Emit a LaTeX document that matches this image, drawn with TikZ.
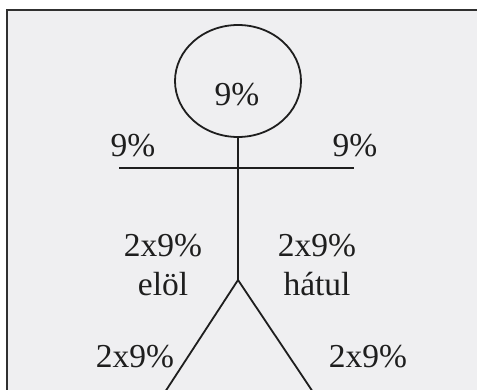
\documentclass[tikz,border=0pt]{standalone}
\usepackage{fontspec}
\setmainfont{Liberation Serif}
\definecolor{paper}{HTML}{EFEFF1}
\definecolor{ink}{HTML}{1E1E1E}
\definecolor{framec}{HTML}{303030}
\begin{document}
\begin{tikzpicture}[x=1pt,y=-1pt,
  lbl/.style={font=\fontsize{33.5}{36}\selectfont, text=ink, inner sep=0pt, anchor=center},
  limb/.style={draw=ink, line width=1.8pt}]
\useasboundingbox (0,0) rectangle (477,390);
\fill[white] (0,0) rectangle (477,390);
\fill[paper] (7,10) rectangle (477,390);
\draw[framec, line width=2.4pt] (7,390) -- (7,10) -- (477,10);
% head
\draw[limb] (238,81) ellipse [x radius=63, y radius=56];
\coordinate (neck) at (238,137);
\coordinate (hip) at (238,280);
\coordinate (armL) at (119,168);
\coordinate (armR) at (354,168);
\coordinate (legL) at (165,392);
\coordinate (legR) at (313,392);
\draw[limb] (neck) -- (hip);
\draw[limb] (armL) -- (armR);
\draw[limb] (legL) -- (hip) -- (legR);
% labels
\node[lbl] (head) at (237,95) {9\%};
\node[lbl] (la) at (133,146) {9\%};
\node[lbl] (ra) at (355,146) {9\%};
\node[lbl] (f1) at (163,246) {2x9\%};
\node[lbl] (f2) at (163,284) {elöl};
\node[lbl] (b1) at (317,246) {2x9\%};
\node[lbl] (b2) at (317,284) {hátul};
\node[lbl] (ll) at (135,357) {2x9\%};
\node[lbl] (rl) at (368,357) {2x9\%};
\end{tikzpicture}
\end{document}
